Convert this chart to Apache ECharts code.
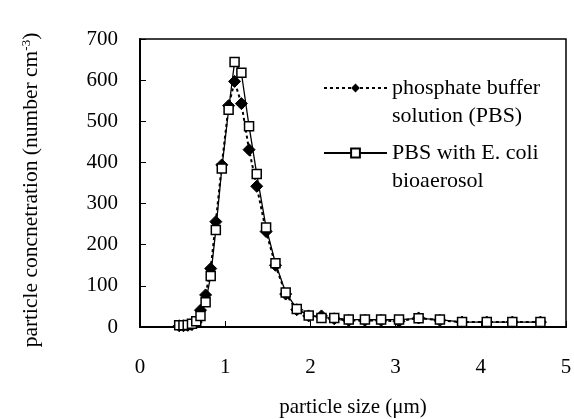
<!DOCTYPE html>
<html>
<head>
<meta charset="utf-8">
<script src="https://cdn.jsdelivr.net/npm/echarts@6/dist/echarts.min.js"></script>
<style>
  html, body { margin: 0; padding: 0; background: #fff; }
  #chart { width: 574px; height: 419px; }
</style>
</head>
<body>
<div id="chart"></div>
<script>
// tamaño de partícula (µm), canales del APS
const sizes = [0.46, 0.51, 0.56, 0.61, 0.66, 0.71, 0.77, 0.83, 0.89, 0.96, 1.04,
  1.11, 1.19, 1.28, 1.37, 1.48, 1.59, 1.71, 1.84, 1.98, 2.13, 2.28, 2.45, 2.64,
  2.83, 3.04, 3.27, 3.52, 3.78, 4.07, 4.37, 4.70];

// phosphate buffer solution (PBS)
const pbs = [3, 3, 4, 6, 12, 41, 78, 142, 256, 394, 538, 597, 543, 431, 342, 232,
  150, 80, 42, 27, 27, 20, 16, 16, 16, 14, 22, 16, 12, 12, 12, 12];

// PBS with E. coli bioaerosol
const ecoli = [4, 4, 5, 8, 14, 27, 60, 124, 236, 385, 528, 644, 618, 488, 372, 242,
  155, 84, 44, 28, 22, 22, 18, 18, 18, 18, 21, 18, 12, 12, 12, 12];

const xTicks = [0, 1, 2, 3, 4, 5];
const yTicks = [0, 100, 200, 300, 400, 500, 600, 700];

const FONT = "Liberation Serif";
// línea vacía al inicio para que el icono quede a la altura de la primera línea
const nombres = {
  "phosphate buffer solution (PBS)": "\nphosphate buffer\nsolution (PBS)",
  "PBS with E. coli bioaerosol": "\nPBS with E. coli\nbioaerosol",
};

function legendBox(name, top) {
  return {
    data: [name],
    left: 323,
    top: top,
    padding: 0,
    itemWidth: 63,
    itemHeight: 11,
    selectedMode: false,
    formatter: (n) => nombres[n],
    textStyle: {
      fontFamily: FONT,
      fontSize: 22,
      color: "#000",
      lineHeight: 28,
    },
  };
}

const chart = echarts.init(document.getElementById("chart"));
const option = {
  backgroundColor: "#fff",
  animation: false,
  legend: [
    legendBox("phosphate buffer solution (PBS)", 46),
    legendBox("PBS with E. coli bioaerosol", 111),
  ],
  grid: {
    left: 140,
    right: 8,
    top: 39,
    bottom: 92,
    containLabel: false,
    outerBoundsMode: "none",
    show: true,
    borderColor: "#000",
    borderWidth: 1.5,
    backgroundColor: "transparent",
  },
  xAxis: {
    type: "value",
    min: xTicks[0],
    max: xTicks[xTicks.length - 1],
    interval: 1,
    name: "particle size (\u03bcm)",
    nameLocation: "middle",
    nameGap: 70,
    nameTextStyle: { fontFamily: FONT, fontSize: 21, color: "#000" },
    axisLine: { lineStyle: { color: "#000", width: 2 } },
    axisTick: { inside: true, length: 6, lineStyle: { color: "#000", width: 1 } },
    axisLabel: { fontFamily: FONT, fontSize: 21, color: "#000", margin: 30 },
    splitLine: { show: false },
  },
  yAxis: {
    type: "value",
    min: yTicks[0],
    max: yTicks[yTicks.length - 1],
    interval: 100,
    name: "{t|particle concnetration (number cm}{s|-3}{t|)}",
    nameLocation: "middle",
    nameGap: 97,
    nameTextStyle: {
      fontFamily: FONT,
      fontSize: 21,
      color: "#000",
      padding: [0, 14, 0, 0],
      rich: {
        t: { fontFamily: FONT, fontSize: 21.5, color: "#000" },
        s: { fontFamily: FONT, fontSize: 13, color: "#000", verticalAlign: "top", padding: [0, 0, 10, 0] },
      },
    },
    axisLine: { lineStyle: { color: "#000", width: 2 } },
    axisTick: { inside: true, length: 6, lineStyle: { color: "#000", width: 1 } },
    axisLabel: { fontFamily: FONT, fontSize: 21, color: "#000", margin: 22 },
    splitLine: { show: false },
  },
  series: [
    {
      name: "phosphate buffer solution (PBS)",
      type: "line",
      data: sizes.map((x, i) => [x, pbs[i]]),
      symbol: "diamond",
      symbolSize: 12,
      itemStyle: { color: "#000", borderColor: "#000" },
      lineStyle: { color: "#000", width: 2, type: [3, 3] },
      z: 2,
    },
    {
      name: "PBS with E. coli bioaerosol",
      type: "line",
      data: sizes.map((x, i) => [x, ecoli[i]]),
      symbol: "rect",
      symbolSize: 9,
      itemStyle: { color: "#fff", borderColor: "#000", borderWidth: 1.5 },
      lineStyle: { color: "#000", width: 1.3 },
      z: 3,
    },
  ],
};
chart.setOption(option);
</script>
</body>
</html>
